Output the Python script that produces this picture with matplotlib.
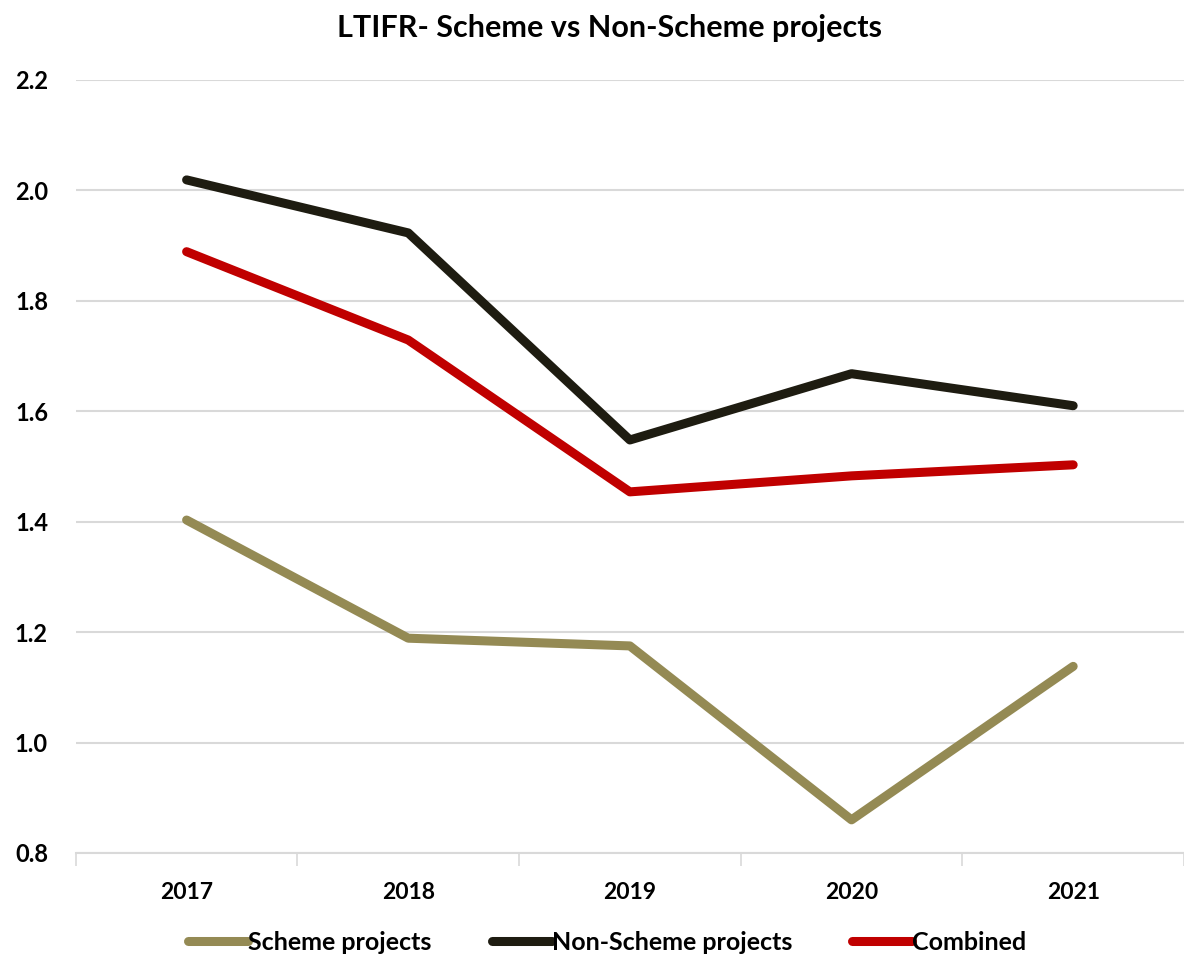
import matplotlib
matplotlib.use('Agg')
import matplotlib.pyplot as plt

plt.rcParams['font.family'] = ['Lato', 'DejaVu Sans']

years = ['2017', '2018', '2019', '2020', '2021']
scheme = [1.403, 1.189, 1.175, 0.860, 1.138]
non_scheme = [2.019, 1.923, 1.548, 1.668, 1.610]
combined = [1.889, 1.729, 1.454, 1.483, 1.503]

fig = plt.figure(figsize=(11.84, 9.61), dpi=100)
ax = fig.add_axes([0.064, 0.1124, 0.936, 0.8044])

x = range(len(years))
ax.plot(x, scheme, color='#948A54', lw=6.5, solid_capstyle='round', solid_joinstyle='round', label='Scheme projects')
ax.plot(x, non_scheme, color='#1E1C11', lw=6.5, solid_capstyle='round', solid_joinstyle='round', label='Non-Scheme projects')
ax.plot(x, combined, color='#C00000', lw=6.5, solid_capstyle='round', solid_joinstyle='round', label='Combined')

ax.set_xlim(-0.5, len(years) - 0.5)
ax.set_ylim(0.8, 2.2)
ax.set_yticks([0.8, 1.0, 1.2, 1.4, 1.6, 1.8, 2.0, 2.2])
ax.set_yticklabels(['%.1f' % v for v in ax.get_yticks()], fontsize=17, fontweight='bold')
ax.set_xticks(list(x))
ax.set_xticklabels(years, fontsize=16.5, fontweight='bold')
ax.tick_params(axis='x', length=0, pad=21)
ax.tick_params(axis='y', length=0, pad=20)
ax.set_xticks([i - 0.5 for i in range(len(years) + 1)], minor=True)
ax.tick_params(axis='x', which='minor', length=9, color='#D9D9D9', width=1.2)

ax.grid(axis='y', color='#D9D9D9', lw=1.5)
ax.set_axisbelow(True)
for s in ['top', 'right', 'left']:
    ax.spines[s].set_visible(False)
ax.spines['bottom'].set_color('#D9D9D9')
ax.spines['bottom'].set_linewidth(1.5)

fig.text(0.515, 0.971, 'LTIFR- Scheme vs Non-Scheme projects', fontsize=22, fontweight='bold',
         ha='center', va='center')

leg = fig.legend(loc='lower center', bbox_to_anchor=(0.513, -0.016), ncol=3, frameon=False,
                 prop={'size': 18, 'weight': 'bold'}, handlelength=2.4, handletextpad=0.0, columnspacing=2.4)

plt.savefig('out.png', dpi=100)
